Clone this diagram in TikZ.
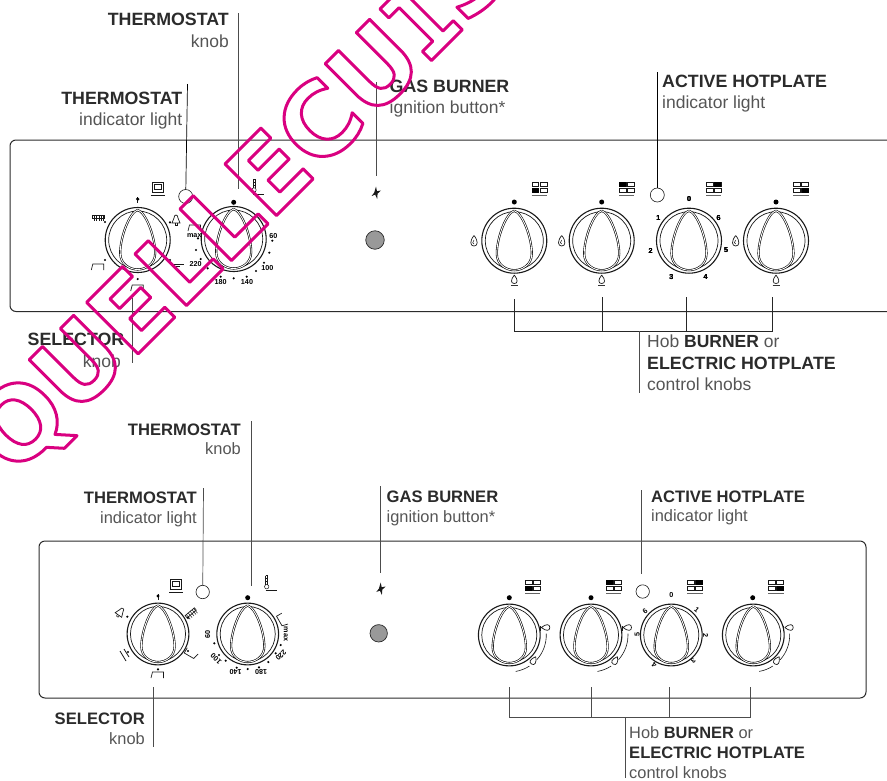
\documentclass[tikz,border=0pt]{standalone}
\usepackage{fontspec}
\setmainfont{Liberation Sans}
\newfontfamily\stampfont{DejaVu Sans}
\newfontfamily\stampmono{DejaVu Sans Mono}
\definecolor{inkdark}{HTML}{2B2B2B}
\definecolor{inkthin}{HTML}{555555}
\tikzset{
  panelline/.style={line width=1pt, draw=inkdark, rounded corners=6},
  leader/.style={line width=0.7pt, draw=black!70},
  dialline/.style={line width=1.1pt, draw=black!90},
  icon/.style={line width=0.5pt, draw=black!90},
  bigtag/.style={anchor=base east, inner sep=0pt, text=inkdark, font=\bfseries\fontsize{17.8}{20}\selectfont},
  thintag/.style={anchor=base east, inner sep=0pt, text=inkthin, font=\fontsize{17.5}{20}\selectfont},
  bigtagsmall/.style={anchor=base east, inner sep=0pt, text=inkdark, font=\bfseries\fontsize{16.6}{20}\selectfont},
  thintagsmall/.style={anchor=base east, inner sep=0pt, text=inkthin, font=\fontsize{16.4}{20}\selectfont},
  dialnum/.style={inner sep=0pt, font=\bfseries\fontsize{7.2}{8}\selectfont},
}
% knob at x, y, with scale
\newcommand{\dialknob}[3]{
  \begin{scope}[shift={(#1,#2)},scale=#3]
    \draw[dialline] (0,0) circle[radius=32.5];
    \draw[dialline, line width=0.7pt] (0,0) circle[radius=29];
    \draw[line width=0.6pt, double, double distance=0.9pt] (0,-30) .. controls (-8,-28) and (-17.5,-3) .. (-17.5,13) .. controls (-17.5,24) and (-8,29.5) .. (0,29.5) .. controls (8,29.5) and (17.5,24) .. (17.5,13) .. controls (17.5,-3) and (8,-28) .. (0,-30);
  \end{scope}}
% hob icon at x, y, with the dark cell at dx, dy
\newcommand{\hobicon}[4]{
  \begin{scope}[shift={(#1,#2)}]
    \foreach \cx in {-7.5,0.7}
      \foreach \cy in {-5,1}
        \draw[icon] (\cx,\cy) rectangle +(6.8,4.5);
    \fill (#3,#4) rectangle +(6.8,4.5);
    \draw[line width=0.9pt, draw=black!60] (-7.7,8.3) -- (7.7,8.3);
  \end{scope}}
\newcommand{\ovenicon}[2]{
  \begin{scope}[shift={(#1,#2)}]
    \draw[icon] (-5.5,-6) rectangle (5.5,4);
    \draw[icon] (-3.5,-4) rectangle (3.5,1.5);
    \draw[icon] (-7,7) -- (7,7);
  \end{scope}}
\newcommand{\thermoicon}[2]{
  \begin{scope}[shift={(#1,#2)}]
    \draw[icon] (-1,-7) -- (-1,2) (1,-7) -- (1,2) (-1,-7) -- (1,-7);
    \draw[icon] (0,4) circle[radius=2.2];
    \draw[icon] (-1,-4) -- (1,-4) (-1,-1) -- (1,-1);
    \draw[icon] (-1,8) -- (10,8);
  \end{scope}}
\newcommand{\dropicon}[2]{
  \begin{scope}[shift={(#1,#2)}]
    \draw[icon, line width=0.7pt] (0,-5.5) .. controls (-4.5,0) and (-4,5) .. (0,5) .. controls (4,5) and (4.5,0) .. (0,-5.5);
    \draw[icon] (0,-1) .. controls (-2,1) and (-1.5,3) .. (0,3);
  \end{scope}}
\newcommand{\burnericon}[2]{
  \begin{scope}[shift={(#1,#2)}]
    \draw[icon, line width=0.7pt] (0,-5) .. controls (-4,0) and (-3.5,3.5) .. (0,3.5) .. controls (3.5,3.5) and (4,0) .. (0,-5);
    \draw[line width=0.9pt, draw=black!80] (-3.5,5.5) -- (3.5,5.5);
  \end{scope}}
\newcommand{\bellicon}[3]{
  \begin{scope}[shift={(#1,#2)},rotate=#3]
    \draw[icon, line width=0.7pt] (-4,4) -- (-2,-1) .. controls (-2,-5) and (2,-5) .. (2,-1) -- (4,4) -- cycle;
    \draw[icon] (-1,4) -- (-1,6) -- (1,6) -- (1,4);
  \end{scope}}
\newcommand{\bracketicon}[3]{
  \begin{scope}[shift={(#1,#2)},rotate=#3]
    \draw[icon, line width=0.7pt] (-7,4) -- (-5.5,-2) -- (5.5,-2) -- (5.5,4);
  \end{scope}}
\newcommand{\grillicon}[3]{
  \begin{scope}[shift={(#1,#2)},rotate=#3]
    \draw[icon, line width=0.7pt] (-6,-3) rectangle (6,0);
    \foreach \gx in {-4.5,-2,0.5,3,5}
      \draw[icon] (\gx,-3) -- (\gx,3);
  \end{scope}}
\newcommand{\starbtn}[2]{
  \fill[black!90, shift={(#1,#2)}] (0,-6.5) -- (1,-1.8) -- (5,-2.5) -- (1.6,0.6) -- (1.2,6) -- (-0.8,1.6) -- (-4.4,3) -- (-1.8,-0.4) -- cycle;}

\begin{document}
\begin{tikzpicture}[x=1pt,y=-1pt]
\useasboundingbox (0,0) rectangle (887,780);

% upper panel
\draw[panelline] (900,140) -- (10,140) -- (10,311.5) -- (900,311.5);

\dialknob{137.7}{240}{1}
\dialknob{233.7}{239}{1}
\dialknob{514.3}{240.7}{1}
\dialknob{601.7}{240.7}{1}
\dialknob{689}{240.7}{1}
\dialknob{776}{240.7}{1}

\ovenicon{157.7}{188}
\thermoicon{254}{186}
\node[draw=black!90, line width=0.6pt, circle, minimum size=14pt, inner sep=0pt] (lampA) at (185.7,196.5) {};
\node[draw=black!90, line width=0.6pt, circle, minimum size=14pt, inner sep=0pt] (lampB) at (657.3,195) {};
\starbtn{376}{193}
\node[draw=inkdark, fill=black!40, line width=0.7pt, circle, minimum size=18.5pt, inner sep=0pt] (btnA) at (375,240) {};

% selector symbols
\draw[icon, line width=0.9pt] (137.7,197) -- (137.7,203);
\fill (137.7,199) circle[radius=1.8];
\grillicon{98.3}{218}{0}
\bracketicon{98.3}{266}{0}
\bracketicon{137.7}{287}{0}
\bellicon{176}{219}{0}
\draw[icon, line width=0.8pt] (172,264) -- (184,264) (172,266.5) -- (180,266.5);
\foreach \dx/\dy in {105/222, 105/260, 137.7/279, 170/222.3, 170/260}
  \fill (\dx,\dy) circle[radius=1.2];

% thermostat scale
\fill (233.7,202.3) circle[radius=2.5];
\foreach \dx/\dy in {272.3/240.7, 269.3/252.7, 264/262.7, 256/271, 246.7/276.7, 233.7/278.3, 220.7/276.7, 207.7/268.3, 200.7/259, 196/250, 198/238.3}
  \fill (\dx,\dy) circle[radius=1.2];
\foreach \lab/\dx/\dy in {60/273.3/236, 100/267.3/268.3, 140/247/282, 180/220.7/282.3, 220/195.7/264.3, max/194.3/236}
  \node[dialnum] (u\lab) at (\dx,\dy) {\lab};
\bracketicon{195}{227}{0}

% hob symbols
\hobicon{539.3}{187}{-7.5}{1}
\hobicon{626.7}{187}{-7.5}{-5}
\hobicon{713.7}{187}{0.7}{-5}
\hobicon{801}{187}{0.7}{1}
\foreach \dx in {514.3,601.7,776}
  {\fill (\dx,202) circle[radius=2.5];
   \burnericon{\dx}{280}}
\foreach \dx in {474,561.7,735.7}
  \dropicon{\dx}{241}
\foreach \lab/\dx/\dy in {0/689/199.3, 1/658.3/217.7, 6/718.7/217.7, 2/650.7/250.7, 5/726/250, 3/671.3/277.3, 4/705.7/277.3}
  \node[dialnum] (ua\lab) at (\dx,\dy) {\lab};

% upper leaders
\coordinate (thermoknobA) at (238.3,13);
\coordinate (thermoknobAend) at (238.3,189);
\draw[leader] (thermoknobA) -- (thermoknobAend);
\coordinate (thermolightA) at (187.5,84);
\draw[leader, draw=black] (thermolightA) -- (lampA);
\coordinate (gasA) at (376,82);
\coordinate (gasAend) at (376,176);
\draw[leader] (gasA) -- (gasAend);
\coordinate (hotlightA) at (657.3,72);
\draw[leader, draw=black] (hotlightA) -- (lampB);
\coordinate (selectorA) at (132.7,298);
\coordinate (selectorAend) at (132.7,363);
\draw[leader] (selectorA) -- (selectorAend);
\foreach \n/\x/\y in {a/514.3/299.3, b/602.3/297, c/686.6/297, d/772.7/297}
  {\coordinate (hobA\n) at (\x,\y);
   \coordinate (hobfootA\n) at (\x,331);
   \draw[leader, draw=black!85] (hobA\n) -- (hobfootA\n);}
\draw[leader, draw=black!85] (hobfootAa) -- (hobfootAd);
\coordinate (hobtagA) at (639.5,331);
\coordinate (hobtagAend) at (639.5,393);
\draw[leader] (hobtagA) -- (hobtagAend);

% upper texts
\node[bigtag] (thermoknobtext) at (229,25) {THERMOSTAT};
\node[thintag] (thermoknobsub) at (229,47) {knob};
\node[bigtag] (thermolighttext) at (182.5,104.5) {THERMOSTAT};
\node[thintag] (thermolightsub) at (182.5,125) {indicator light};
\node[bigtag, anchor=base west] (gastext) at (389.5,92) {GAS BURNER};
\node[thintag, anchor=base west] (gassub) at (389.5,113) {ignition button*};
\node[bigtag, anchor=base west] (hottext) at (662,87) {ACTIVE HOTPLATE};
\node[thintag, anchor=base west] (hotsub) at (662,108) {indicator light};
\node[bigtag] (selectortext) at (124.5,345) {SELECTOR};
\node[thintag] (selectorsub) at (121,367) {knob};
\node[thintag, anchor=base west] (hobtext) at (647,347.5) {Hob \textbf{\color{inkdark}BURNER} or};
\node[bigtag, anchor=base west] (hobbold) at (647,369) {ELECTRIC HOTPLATE};
\node[thintag, anchor=base west] (hobsub) at (647,390) {control knobs};

% lower panel
\draw[panelline] (39,541) rectangle (866,698);

\dialknob{158}{634}{0.95}
\dialknob{247.7}{634}{0.95}
\dialknob{509.3}{635}{0.95}
\dialknob{591}{635}{0.95}
\dialknob{671.3}{635}{0.95}
\dialknob{753.3}{635}{0.95}

\ovenicon{176}{585}
\thermoicon{266.7}{582.7}
\node[draw=black!90, line width=0.6pt, circle, minimum size=13.4pt, inner sep=0pt] (lampC) at (202.7,592) {};
\node[draw=black!90, line width=0.6pt, circle, minimum size=13.4pt, inner sep=0pt] (lampD) at (642.7,591.5) {};
\starbtn{380.7}{589}
\node[draw=inkdark, fill=black!40, line width=0.7pt, circle, minimum size=17.4pt, inner sep=0pt] (btnB) at (378.7,633.3) {};

% selector symbols, lower
\draw[icon, line width=0.9pt] (158,594) -- (158,600);
\fill (158,596) circle[radius=1.6];
\bellicon{120.7}{611.7}{-35}
\grillicon{191.7}{614}{40}
\bracketicon{190}{654}{150}
\bracketicon{158}{674}{0}
\draw[icon, line width=0.8pt] (120,651) -- (126,661) (124,649) -- (129,657);
\foreach \dx/\dy in {127.3/616.7, 188/618, 188/651, 158/669.3, 128/652}
  \fill (\dx,\dy) circle[radius=1.2];

% thermostat scale, lower
\fill (247.7,597.7) circle[radius=2.5];
\foreach \dx/\dy in {214.3/643.3, 219/655, 225.7/660.7, 236.7/667.7, 247.7/669, 259/667.3, 268.3/662, 275.7/653.3, 280.7/645}
  \fill (\dx,\dy) circle[radius=1.2];
\foreach \lab/\dx/\dy/\rt in {60/207.7/634/90, 100/216/658.7/135, 140/235.7/672.3/180, 180/261/671.7/180, 220/281/655.3/225, max/285.7/634/270}
  \node[dialnum, rotate=\rt] (l\lab) at (\dx,\dy) {\lab};
\bracketicon{281}{620}{120}

% hob symbols, lower
\hobicon{532.7}{585}{-7.5}{1}
\hobicon{613.7}{585}{-7.5}{-5}
\hobicon{695}{585}{0.7}{-5}
\hobicon{776}{585}{0.7}{1}
\foreach \dx in {509.3,591,752.7}
  {\fill (\dx,597.7) circle[radius=2.5];
   \begin{scope}[shift={(\dx,635)}]
     \draw[icon, line width=0.6pt] (-2:37) arc[start angle=-2, end angle=42, radius=37];
     \draw[icon, line width=0.6pt] (57:37) arc[start angle=57, end angle=80, radius=37];
     \draw[icon, line width=0.8pt] (31,-9) -- (31,-4);
     \begin{scope}[shift={(37,-7.5)},rotate=90]
       \draw[icon, line width=0.7pt] (0,-5) .. controls (-4,0) and (-3.5,3.5) .. (0,3.5) .. controls (3.5,3.5) and (4,0) .. (0,-5);
     \end{scope}
     \begin{scope}[shift={(24,26)},rotate=-30]
       \draw[icon, line width=0.7pt] (0,-5) .. controls (-4,0) and (-3.5,3.5) .. (0,3.5) .. controls (3.5,3.5) and (4,0) .. (0,-5);
     \end{scope}
   \end{scope}}
\foreach \lab/\dx/\dy/\rt in {0/671.3/595/0, 1/696.7/610/-40, 2/705.7/635.7/-90, 3/693.3/660.7/-140, 4/654.3/665/140, 5/637.3/634.3/90, 6/645/611/40}
  \node[dialnum, rotate=\rt] (la\lab) at (\dx,\dy) {\lab};

% lower leaders
\coordinate (thermoknobB) at (251.7,421);
\coordinate (thermoknobBend) at (251.7,585.7);
\draw[leader] (thermoknobB) -- (thermoknobBend);
\coordinate (thermolightB) at (203.5,488);
\draw[leader] (thermolightB) -- (lampC);
\coordinate (gasB) at (380,486);
\coordinate (gasBend) at (380,573);
\draw[leader] (gasB) -- (gasBend);
\coordinate (hotlightB) at (641.7,490);
\coordinate (hotlightBend) at (641.7,574);
\draw[leader] (hotlightB) -- (hotlightBend);
\coordinate (selectorB) at (153.3,687.3);
\coordinate (selectorBend) at (153.3,747);
\draw[leader] (selectorB) -- (selectorBend);
\foreach \n/\x in {a/509.3, b/591.3, c/669.3, d/750}
  {\coordinate (hobB\n) at (\x,687);
   \coordinate (hobfootB\n) at (\x,717.7);
   \draw[leader] (hobB\n) -- (hobfootB\n);}
\draw[leader] (hobfootBa) -- (hobfootBd);
\coordinate (hobtagB) at (625.7,717.7);
\coordinate (hobtagBend) at (625.7,778);
\draw[leader] (hobtagB) -- (hobtagBend);

% lower texts
\node[bigtagsmall] (thermoknobtextB) at (241,435) {THERMOSTAT};
\node[thintagsmall] (thermoknobsubB) at (241,454.5) {knob};
\node[bigtagsmall] (thermolighttextB) at (197,503) {THERMOSTAT};
\node[thintagsmall] (thermolightsubB) at (197,523) {indicator light};
\node[bigtagsmall, anchor=base west] (gastextB) at (386.5,502) {GAS BURNER};
\node[thintagsmall, anchor=base west] (gassubB) at (386.5,522) {ignition button*};
\node[bigtagsmall, anchor=base west] (hottextB) at (651,502) {ACTIVE HOTPLATE};
\node[thintagsmall, anchor=base west] (hotsubB) at (651,521) {indicator light};
\node[bigtagsmall] (selectortextB) at (145,724) {SELECTOR};
\node[thintagsmall] (selectorsubB) at (145,744.5) {knob};
\node[thintagsmall, anchor=base west] (hobtextB) at (629,738) {Hob \textbf{\color{inkdark}BURNER} or};
\node[bigtagsmall, anchor=base west] (hobboldB) at (629,758) {ELECTRIC HOTPLATE};
\node[thintagsmall, anchor=base west] (hobsubB) at (629,778) {control knobs};

% stamp across the sheet
\node[rotate=45, anchor=base west, inner sep=0pt, font=\fontsize{100}{104}\selectfont] (stamp) at (14,478)
  {\special{pdf:code 1 Tr 3 w 1 J 1 j 0.85 0 0.5 RG}\stampfont\bfseries QUELLECU\kern-3pt{\stampmono I}\kern-4pt S\special{pdf:code 0 Tr}};
\end{tikzpicture}
\end{document}
